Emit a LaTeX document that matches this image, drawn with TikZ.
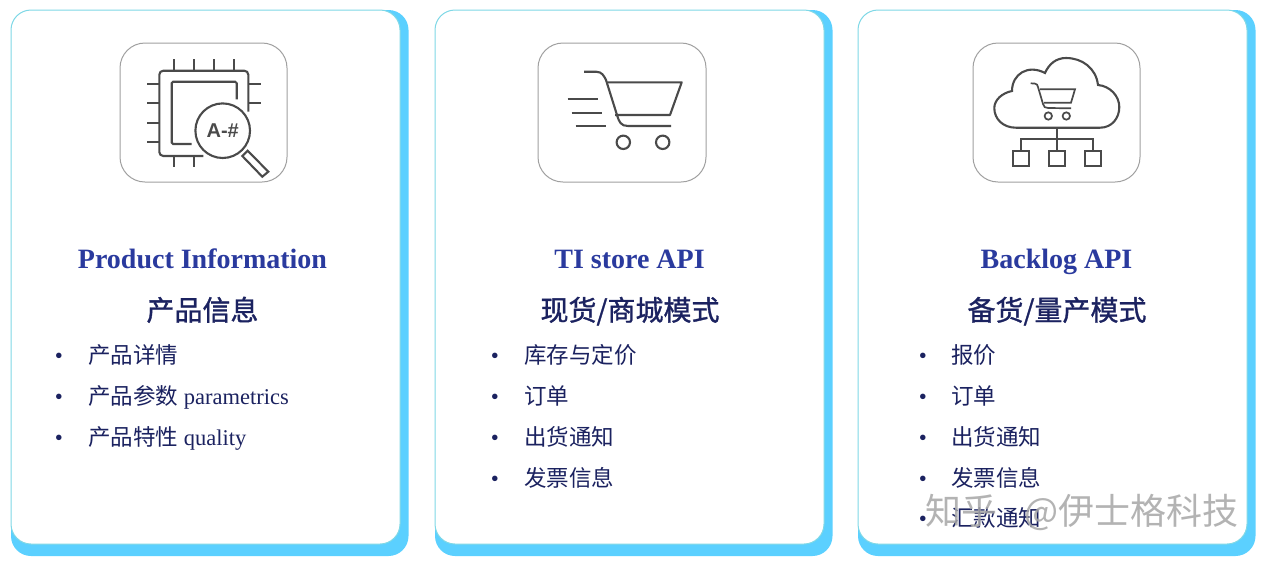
\documentclass[tikz,border=0pt]{standalone}
\usepackage{fontspec}
\setmainfont{Liberation Serif}
\newfontfamily\cjk{Noto Sans CJK SC}
\newfontfamily\cjkmed[FakeBold=1.1]{Noto Sans CJK SC}
\newfontfamily\iconfont{Liberation Sans}
\definecolor{cardcyan}{HTML}{5BD0FF}
\definecolor{cardline}{HTML}{7FD8E6}
\definecolor{titleblue}{HTML}{2A3A9E}
\definecolor{navy}{HTML}{1B2260}
\definecolor{icongray}{HTML}{4A4A4A}
\definecolor{boxgray}{HTML}{A0A0A0}
\tikzset{
    shadowcard/.style={fill=cardcyan,rounded corners=20pt},
    whitecard/.style={fill=white,draw=cardline,line width=1pt,rounded corners=20pt},
    iconbox/.style={draw=boxgray,line width=1pt,rounded corners=25pt},
    ico/.style={draw=icongray,line width=2.1pt},
    icosmall/.style={ico,line width=1.7pt},
    titletext/.style={inner sep=0pt,anchor=base,text=titleblue,font=\bfseries\fontsize{28}{33}\selectfont},
    headtext/.style={inner sep=0pt,anchor=base,text=navy,font=\cjkmed\fontsize{28}{33}\selectfont},
    listtext/.style={inner sep=0pt,anchor=base west,text=navy,font=\fontsize{22.5}{27}\selectfont},
    dotmark/.style={inner sep=0pt,anchor=base,text=navy,font=\fontsize{23}{27}\selectfont},
    leaf/.style={ico,minimum width=16pt,minimum height=15pt,inner sep=0pt},
}
\begin{document}
\begin{tikzpicture}[x=1pt,y=-1pt]
    \useasboundingbox (0,0) rectangle (1268,563);
    \foreach \x in {11,435,858}{
        \fill[shadowcard] (\x,10) rectangle (\x+397.5,556);
        \draw[whitecard] (\x,10) rectangle (\x+389,544);
    }
    \draw[iconbox] (120,43) rectangle (287,182);
    \draw[iconbox] (538,43) rectangle (706,182);
    \draw[iconbox] (973,43) rectangle (1140,182);

    \draw[ico,rounded corners=4pt] (203.3,156) -- (159.3,156) -- (159.3,70.7) -- (248.3,70.7) -- (248.3,111.7);
    \draw[ico,rounded corners=1.5pt] (236.7,99.3) -- (236.7,81.7) -- (171.7,81.7) -- (171.7,144) -- (191.7,144);
    \foreach \x in {173.7,193.7,214,234}{
        \draw[ico] (\x,59.3) -- (\x,70.7);
    }
    \foreach \x in {173.7,193.7}{
        \draw[ico] (\x,156) -- (\x,166.7);
    }
    \foreach \y in {84,103.3,122.7,142}{
        \draw[ico] (147.3,\y) -- (159.3,\y);
    }
    \foreach \y in {84,103.3}{
        \draw[ico] (248.3,\y) -- (260.7,\y);
    }
    \node[ico,circle,minimum size=54.6pt,inner sep=0pt,text=icongray,font=\iconfont\bfseries\fontsize{20}{22}\selectfont] (lens) at (222.7,130.7) {A-\#};
    \draw[ico] (242.3,156) -- (247.7,150.7) -- (268.3,171.7) -- (262.3,176.7) -- cycle;

    \draw[ico] (584,71.7) -- (596,71.7) .. controls (602,71.7) and (604,76) .. (606,80) -- (617,115) .. controls (619,122) and (621,126) .. (628,126) -- (671,126);
    \draw[ico,line join=round] (607.3,82.3) -- (681.7,82.3) -- (670,115) -- (615,115);
    \draw[ico] (567.7,99) -- (598.3,99);
    \draw[ico] (571.7,112.7) -- (601.7,112.7);
    \draw[ico] (575.7,126) -- (606,126);
    \draw[ico] (623.3,142.3) circle (6.7);
    \draw[ico] (662.7,142.3) circle (6.7);

    \draw[ico] (1016,127.7) -- (1100,127.7) .. controls (1112,127.7) and (1119.3,118) .. (1119.3,107) .. controls (1119.3,96) and (1110,86) .. (1098,85) .. controls (1096,68) and (1082,58) .. (1066,58) .. controls (1056,58) and (1049,64) .. (1045,73) .. controls (1028,64) and (1012,74) .. (1012,91) .. controls (1002,93) and (994.3,100) .. (994.3,108) .. controls (994.3,119) and (1003,127.7) .. (1016,127.7) -- cycle;
    \draw[icosmall] (1030.7,83.3) -- (1035,83.6) .. controls (1037,84) and (1037.5,85) .. (1038,87) -- (1043,104) .. controls (1044,107) and (1045,108) .. (1048,108) -- (1071,108.3);
    \draw[icosmall] (1040,89.3) -- (1075,89.3) -- (1071,102.7) -- (1044,102.7);
    \draw[icosmall] (1048.3,116) circle (3.7);
    \draw[icosmall] (1066.3,116) circle (3.7);
    \coordinate (stemtop) at (1056.7,127.7);
    \coordinate (barleft) at (1021.3,139);
    \coordinate (barright) at (1092.8,139);
    \node[leaf] (leafa) at (1021.3,158.2) {};
    \node[leaf] (leafb) at (1057,158.2) {};
    \node[leaf] (leafc) at (1092.8,158.2) {};
    \draw[ico] (stemtop) -- (leafb.north -| stemtop);
    \draw[ico] (leafa.north) -- (barleft) -- (barright) -- (leafc.north);

    \node[titletext] (titlea) at (202.5,268) {Product Information};
    \node[titletext] (titleb) at (629.5,268) {TI store API};
    \node[titletext] (titlec) at (1056.5,268) {Backlog API};
    \node[headtext] (heada) at (202.5,320.5) {产品信息};
    \node[headtext] (headb) at (630,320.5) {现货/商城模式};
    \node[headtext] (headc) at (1057,320.5) {备货/量产模式};

    \foreach \i/\y/\t in {1/355/{\cjk 产品详情},2/396/{\cjk 产品参数} parametrics,3/437/{\cjk 产品特性} quality}{
        \node[dotmark] (dota\i) at (59,\y+8.5) {•};
        \node[listtext] (lista\i) at (88,\y+8.5) {\t};
    }
    \foreach \i/\y/\t in {1/355/库存与定价,2/396/订单,3/437/出货通知,4/478/发票信息}{
        \node[dotmark] (dotb\i) at (495,\y+8.5) {•};
        \node[listtext] (listb\i) at (524,\y+8.5) {\cjk \t};
    }
    \foreach \i/\y/\t in {1/355/报价,2/396/订单,3/437/出货通知,4/478/发票信息,5/518/汇款通知}{
        \node[dotmark] (dotc\i) at (923,\y+8.5) {•};
        \node[listtext] (listc\i) at (951,\y+8.5) {\cjk \t};
    }
    \node[inner sep=0pt,anchor=west,text=gray!70,text opacity=0.85,font=\cjk\fontsize{36}{40}\selectfont] (mark) at (925,512.5) {知乎\hspace{19pt} @伊士格科技};
\end{tikzpicture}
\end{document}
